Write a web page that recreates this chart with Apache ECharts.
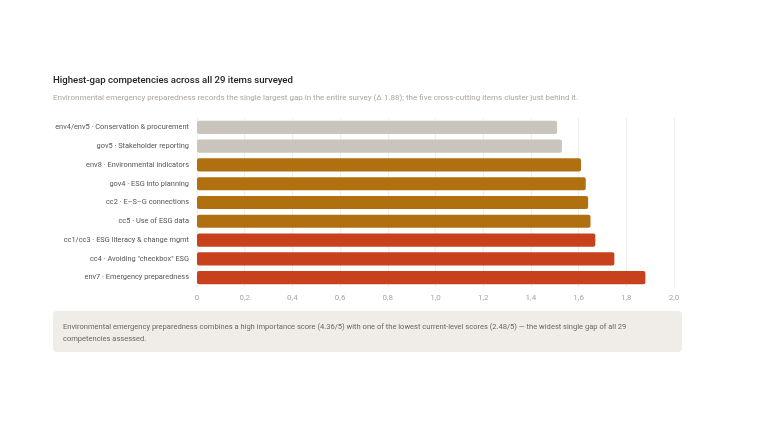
<!DOCTYPE html>
<html><head><meta charset="utf-8">
<script src="https://cdn.jsdelivr.net/npm/echarts@6/dist/echarts.min.js"></script>
<style>html,body{margin:0;padding:0;background:#fff}#c{width:768px;height:426px}</style>
</head><body><div id="c"></div>
<script>
const categories = [
  "env7 · Emergency preparedness",
  "cc4 · Avoiding \"checkbox\" ESG",
  "cc1/cc3 · ESG literacy & change mgmt",
  "cc5 · Use of ESG data",
  "cc2 · E–S–G connections",
  "gov4 · ESG into planning",
  "env8 · Environmental indicators",
  "gov5 · Stakeholder reporting",
  "env4/env5 · Conservation & procurement"
];
const gaps = [1.88, 1.75, 1.67, 1.65, 1.64, 1.63, 1.61, 1.53, 1.51];
const tiers = ["top", "top", "top", "mid", "mid", "mid", "mid", "low", "low"];
const tierColors = { top: "#c8411d", mid: "#b07010", low: "#c9c4bc" };
const tickLabels = ["0", "0,2", "0,4", "0,6", "0,8", "1,0", "1,2", "1,4", "1,6", "1,8", "2,0"];
const titleText = "Highest-gap competencies across all 29 items surveyed";
const subtitleText = "Environmental emergency preparedness records the single largest gap in the entire survey (Δ 1.88); the five cross-cutting items cluster just behind it.";
const noteText = "Environmental emergency preparedness combines a high importance score (4.36/5) with one of the lowest current-level scores (2.48/5) — the widest single gap of all 29\ncompetencies assessed.";

const FONT = "Roboto, 'Liberation Sans', sans-serif";
const chart = echarts.init(document.getElementById('c'), null, { renderer: 'canvas' });
chart.setOption({
  backgroundColor: '#ffffff',
  animation: false,
  textStyle: { fontFamily: FONT },
  title: [
    { text: titleText, left: 48, top: 71, textStyle: { fontFamily: FONT, fontSize: 9.6, fontWeight: 500, color: '#222222' } },
    { text: subtitleText, left: 48, top: 89, textStyle: { fontFamily: FONT, fontSize: 8, fontWeight: 400, color: '#aaa6a0' } }
  ],
  grid: { left: 197, right: 94, top: 118, bottom: 139, containLabel: false },
  xAxis: {
    type: 'value', min: 0, max: 2, interval: 0.2,
    axisLine: { show: false }, axisTick: { show: false },
    splitLine: { show: true, lineStyle: { color: '#f2efeb', width: 1 } },
    axisLabel: {
      color: '#aaa6a0', fontSize: 8, margin: 7, fontFamily: FONT,
      formatter: (v) => tickLabels[Math.round(v / 0.2)]
    }
  },
  yAxis: {
    type: 'category', data: categories,
    axisLine: { show: false }, axisTick: { show: false },
    axisLabel: { color: '#555555', fontSize: 7.4, margin: 8, fontFamily: FONT }
  },
  series: [{
    type: 'bar',
    data: gaps.map((v, i) => ({ value: v, itemStyle: { color: tierColors[tiers[i]] } })),
    barCategoryGap: '30%',
    itemStyle: { borderRadius: 2 }
  }],
  graphic: [{
    type: 'group', left: 53, top: 311,
    children: [
      { type: 'rect', shape: { x: 0, y: 0, width: 629, height: 41, r: 4 }, style: { fill: '#f0ece7' } },
      { type: 'text', x: 10, y: 10, style: { text: noteText, fontFamily: FONT, fontSize: 7.55, lineHeight: 12, fill: '#6b6661' } }
    ]
  }]
});
</script></body></html>
